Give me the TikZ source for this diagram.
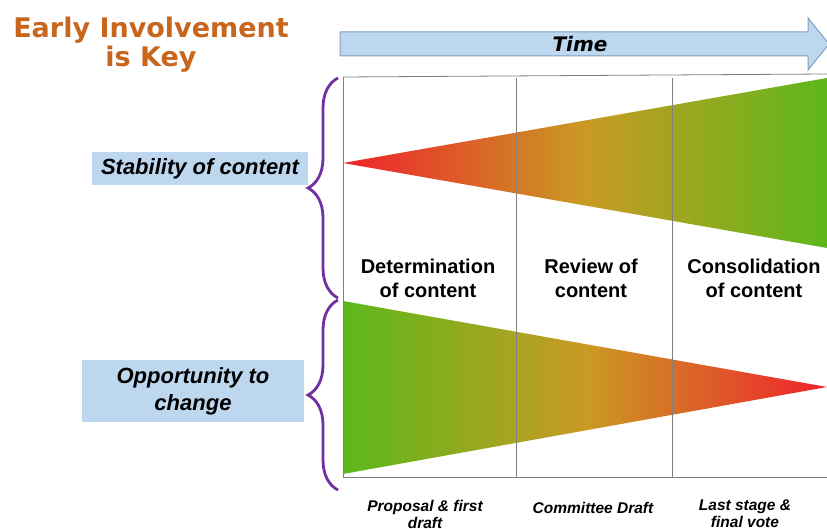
\documentclass[tikz,border=0pt]{standalone}
\usepackage{fontspec}
\setmainfont{Liberation Sans}
\newfontfamily\titlefont{DejaVu Sans}
\usetikzlibrary{positioning,decorations.pathreplacing}
\definecolor{titleorange}{HTML}{C8661E}
\definecolor{paleblue}{HTML}{BDD7EE}
\definecolor{arrowedge}{HTML}{7F9FBF}
\definecolor{bracepurple}{HTML}{7030A0}
\definecolor{wedgered}{HTML}{F0222C}
\definecolor{wedgemid}{HTML}{C99A24}
\definecolor{wedgegreen}{HTML}{5CB81A}

\begin{document}
\begin{tikzpicture}[x=1pt, y=-1pt, node distance={163pt},
    stage/.style = {font=\bfseries\fontsize{20}{24}\selectfont, align=center},
    sidebox/.style = {fill=paleblue, inner sep=0pt, align=center, font=\bfseries\itshape\fontsize{22}{27}\selectfont},
    foot/.style = {font=\bfseries\itshape\fontsize{15.5}{17}\selectfont, align=center},
    curly/.style = {draw=bracepurple, line width=2.8pt, decorate, decoration={brace, amplitude=30pt}},
    grid/.style = {draw=gray, line width=0.8pt}]
    \useasboundingbox (0,0) rectangle (827,529);
    % title and time arrow
    \node[text=titleorange, align=center, font=\titlefont\bfseries\fontsize{27}{29}\selectfont] (title) at (151,45) {Early Involvement\\is Key};
    \draw[fill=paleblue, draw=arrowedge, line width=1pt] (340,32) -- (808,32) -- (808,18) -- (829,44)
        -- (808,70) -- (808,56) -- (340,56) -- cycle;
    \node[font=\titlefont\bfseries\itshape\fontsize{20}{24}\selectfont] (time) at (580,44) {Time};
    % frame corners
    \coordinate (nw) at (343,77);
    \coordinate (ne) at (827,74);
    \coordinate (sw) at (343,477);
    \coordinate (se) at (827,477);
    % wedges
    \coordinate (tipA) at (343,163);
    \coordinate (tipB) at (827,387);
    \shade[left color=wedgered, right color=wedgegreen, middle color=wedgemid] (tipA) -- (827,78) -- (827,248) -- cycle;
    \shade[left color=wedgegreen, right color=wedgered, middle color=wedgemid] (343,301) -- (tipB) -- (343,474) -- cycle;
    % grid
    \draw[grid] (nw) -- (ne);
    \draw[grid] (nw) -- (sw) -- (se);
    \draw[grid] (516,78) -- (516,477);
    \draw[grid] (672,78) -- (672,477);
    % stages
    \node[stage] (det) at (428,278) {Determination\\of content};
    \node[stage] (rev) [right of=det] {Review of\\content};
    \node[stage] (con) [right of=rev] {Consolidation\\of content};
    % side labels and braces
    \node[sidebox, minimum width=216pt, minimum height=33pt] (stab) at (200,168.5) {Stability of content};
    \node[sidebox, minimum width=222pt, minimum height=62pt] (opp) at (193,391) {Opportunity to\\change};
    \draw[curly] (338,298) -- (338,78);
    \draw[curly] (338,490) -- (338,300);
    % document stages
    \node[foot] (prop) at (425,514) {Proposal \& first\\draft};
    \node[foot] (cd) at (593,508) {Committee Draft};
    \node[foot] (last) at (745,514) {Last stage \&\\final vote};
\end{tikzpicture}
\end{document}
